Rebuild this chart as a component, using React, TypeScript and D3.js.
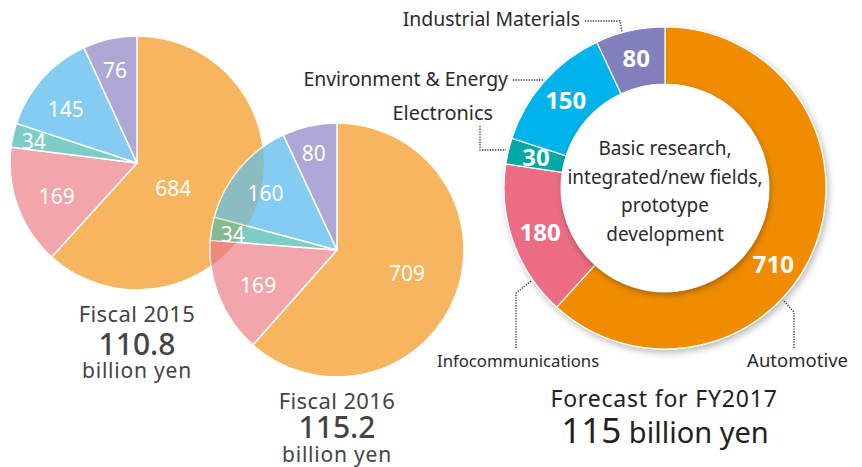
import React from "react";
import * as d3 from "d3";

const categories = ["Automotive", "Infocommunications", "Electronics", "Environment & Energy", "Industrial Materials"];
const fy2015 = [684, 169, 34, 145, 76];
const fy2016 = [709, 169, 34, 160, 80];
const fy2017 = [710, 180, 30, 150, 80];

const pastelColors = ["#F6B55E", "#F2A5AB", "#7DCCC8", "#84CCF2", "#ADA8D5"];
const overlapColors = ["#F6B55E", "#EF8A7C", "#86BA92", "#8BBCC2", "#B8A8B8"];
const donutColors = ["#EF8C00", "#EB6C84", "#00A9A5", "#00B3EA", "#8180BC"];

const pieLabelFactor = [0.35, 0.685, 0.83, 0.7, 0.75];
const pieLabelAngleOffset = [14, -2.5, -1, -5, -1];
const pie2LabelFactor = [0.58, 0.68, 0.83, 0.72, 0.78];
const pie2LabelAngleOffset = [-2.5, -2, -1, -1.5, -1];
const donutLabelAngleOffset = [14, 0, 0, 0, 0];

const FONT = "'Noto Sans', 'Open Sans', sans-serif";

const pieGen = d3.pie<number>().sort(null).value((d) => d);

const rad = (deg: number) => (deg * Math.PI) / 180;

function polar(cx: number, cy: number, r: number, a: number): [number, number] {
  return [cx + r * Math.sin(a), cy - r * Math.cos(a)];
}

export default function App() {
  const R = 127;
  const p1 = { cx: 137, cy: 163 };
  const p2 = { cx: 337, cy: 250 };
  const d = { cx: 665, cy: 188, r0: 104, r1: 161 };

  const arcPie = d3.arc<d3.PieArcDatum<number>>().innerRadius(0).outerRadius(R);
  const arcDonut = d3.arc<d3.PieArcDatum<number>>().innerRadius(d.r0).outerRadius(d.r1);

  const a15 = pieGen(fy2015);
  const a16 = pieGen(fy2016);
  const a17 = pieGen(fy2017);

  const dotted = { fill: "none", stroke: "#333", strokeWidth: 1.3, strokeDasharray: "1.3,1.3" };
  const calloutText = { fontFamily: FONT, fontSize: 19.4, fill: "#2b2b2b" };

  return (
    <svg width={862} height={467} style={{ position: "absolute", left: 0, top: 0, background: "#fff" }}>
      <defs>
        <clipPath id="pie1clip">
          <circle cx={p1.cx} cy={p1.cy} r={R} />
        </clipPath>
        <filter id="ringShadow" x="-20%" y="-20%" width="140%" height="140%">
          <feDropShadow dx="2" dy="3" stdDeviation="3.5" floodColor="#000" floodOpacity="0.28" />
        </filter>
        <filter id="innerShadow" x="-20%" y="-20%" width="140%" height="140%">
          <feDropShadow dx="1" dy="3" stdDeviation="3" floodColor="#000" floodOpacity="0.3" />
        </filter>
      </defs>

      {/* Fiscal 2015 pie */}
      <g transform={`translate(${p1.cx},${p1.cy})`}>
        {a15.map((s, i) => (
          <path key={i} d={arcPie(s) as string} fill={pastelColors[i]} stroke="#fff" strokeWidth={1.5} />
        ))}
        {a15.map((s, i) => {
          const m = (s.startAngle + s.endAngle) / 2 + rad(pieLabelAngleOffset[i]);
          const [x, y] = polar(0, 0, R * pieLabelFactor[i], m);
          return (
            <text key={i} x={x} y={y} dy="0.36em" textAnchor="middle" fontFamily={FONT} fontSize={21} fill="#fff">
              {s.data}
            </text>
          );
        })}
      </g>

      {/* Fiscal 2016 pie */}
      <g transform={`translate(${p2.cx},${p2.cy})`}>
        {a16.map((s, i) => (
          <path key={i} d={arcPie(s) as string} fill={pastelColors[i]} stroke="#fff" strokeWidth={1.5} />
        ))}
      </g>
      <g clipPath="url(#pie1clip)">
        <g transform={`translate(${p2.cx},${p2.cy})`}>
          {a16.map((s, i) => (
            <path key={i} d={arcPie(s) as string} fill={overlapColors[i]} stroke="#F3E6D0" strokeWidth={1.2} />
          ))}
        </g>
      </g>
      <circle cx={p2.cx} cy={p2.cy} r={R} fill="none" stroke="#fff" strokeOpacity={0.6} strokeWidth={1} />
      <g transform={`translate(${p2.cx},${p2.cy})`}>
        {a16.map((s, i) => {
          const m = (s.startAngle + s.endAngle) / 2 + rad(pie2LabelAngleOffset[i]);
          const [x, y] = polar(0, 0, R * pie2LabelFactor[i], m);
          return (
            <text key={i} x={x} y={y} dy="0.36em" textAnchor="middle" fontFamily={FONT} fontSize={21} fill="#fff">
              {s.data}
            </text>
          );
        })}
      </g>

      {/* FY2017 donut */}
      <g transform={`translate(${d.cx},${d.cy})`}>
        <g filter="url(#ringShadow)">
          {a17.map((s, i) => (
            <path key={i} d={arcDonut(s) as string} fill={donutColors[i]} stroke="#fff" strokeWidth={1.2} />
          ))}
        </g>
        <circle r={d.r0} fill="#fff" filter="url(#innerShadow)" />
        {a17.map((s, i) => {
          const m = (s.startAngle + s.endAngle) / 2 + rad(donutLabelAngleOffset[i]);
          const [x, y] = polar(0, 0, (d.r0 + d.r1) / 2, m);
          return (
            <text key={i} x={x} y={y} dy="0.36em" textAnchor="middle" fontFamily={FONT} fontSize={24} fontWeight={700} fill="#fff">
              {s.data}
            </text>
          );
        })}
        {["Basic research,", "integrated/new fields,", "prototype", "development"].map((t, i) => (
          <text key={i} x={0} y={-33 + i * 28.5} textAnchor="middle" fontFamily={FONT} fontSize={19} fill="#2b2b2b">
            {t}
          </text>
        ))}
      </g>

      {/* Callouts */}
      <text x={580} y={26} textAnchor="end" {...calloutText}>{categories[4]}</text>
      <polyline points="585,21 620,21 622,32" {...dotted} />
      <text x={508} y={86} textAnchor="end" {...calloutText}>{categories[3]}</text>
      <polyline points="513,80 543,80" {...dotted} />
      <text x={493} y={120} textAnchor="end" {...calloutText} fontSize={19.9}>{categories[2]}</text>
      <polyline points="480,126 480,150 506,150" {...dotted} />
      <text x={437} y={367} textAnchor="start" {...calloutText} fontSize={16.7}>{categories[1]}</text>
      <polyline points="516,348 516,293 531,281" {...dotted} />
      <text x={848} y={367} textAnchor="end" {...calloutText} fontSize={18.5}>{categories[0]}</text>
      <polyline points="794,348 794,312 783,300" {...dotted} />

      {/* Totals */}
      <g fontFamily={FONT} fill="#444" textAnchor="middle">
        <text x={p1.cx} y={322} fontSize={22} letterSpacing={0.4}>Fiscal 2015</text>
        <text x={p1.cx} y={355} fontSize={30} fontWeight={500}>110.8</text>
        <text x={p1.cx} y={378} fontSize={21} letterSpacing={0.8}>billion yen</text>
        <text x={p2.cx} y={409} fontSize={22} letterSpacing={0.4}>Fiscal 2016</text>
        <text x={p2.cx} y={438} fontSize={30} fontWeight={500}>115.2</text>
        <text x={p2.cx} y={462} fontSize={21} letterSpacing={0.8}>billion yen</text>
      </g>
      <g fontFamily={FONT} fill="#222" textAnchor="middle">
        <text x={664} y={407} fontSize={23} letterSpacing={0.8}>Forecast for FY2017</text>
        <text x={665} y={443}>
          <tspan fontSize={35}>115</tspan>
          <tspan fontSize={29}> billion yen</tspan>
        </text>
      </g>
    </svg>
  );
}
